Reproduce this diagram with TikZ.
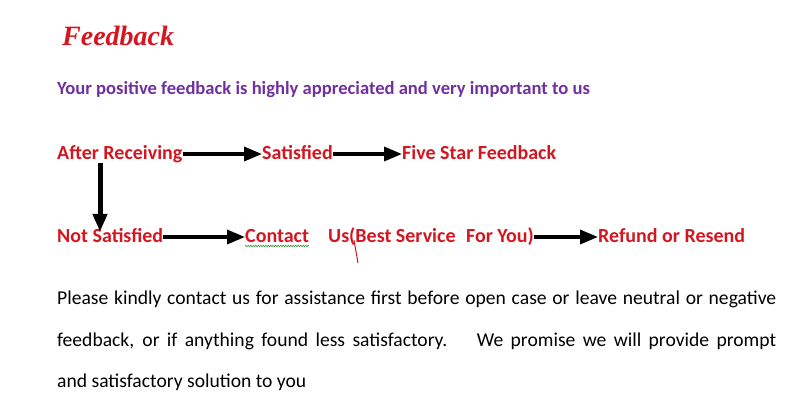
\documentclass[tikz,border=0pt]{standalone}
\usepackage{fontspec}
\setmainfont{Carlito}
\newfontfamily\titlefont{Liberation Serif}
\usetikzlibrary{arrows.meta, positioning, calc, decorations.pathmorphing}
\definecolor{fbred}{RGB}{212,22,32}
\definecolor{fbpurple}{RGB}{112,48,160}
\definecolor{spellgreen}{RGB}{60,150,60}

\begin{document}
\begin{tikzpicture}[x=1pt, y=-1pt,
  stage/.style={anchor=base west, inner sep=0pt, text=fbred,
    font=\fontsize{20}{22}\selectfont\bfseries, text height=10pt, text depth=0pt},
  flow/.style={-{Triangle[length=18pt,width=14pt]}, line width=3.4pt},
  para/.style={anchor=base west, inner sep=0pt, font=\fontsize{19.6}{24}\selectfont}]
  \useasboundingbox (0,0) rectangle (794,402);

  % Heading
  \node[anchor=base west, inner sep=0pt, text=fbred,
    font=\titlefont\fontsize{28}{30}\selectfont\bfseries\itshape] (title) at (62,45) {Feedback};
  \node[anchor=base west, inner sep=0pt, text=fbpurple,
    font=\fontsize{18.6}{20}\selectfont\bfseries] (thanks) at (57,94) {Your positive feedback is highly appreciated and very important to us};

  % Steps
  \node[stage] (after) at (57,159) {After Receiving};
  \node[stage] (sat) at (262,159) {Satisfied};
  \node[stage] (five) at (402,159) {Five Star Feedback};
  \node[stage] (notsat) at (57,242) {Not Satisfied};
  \node[stage] (contact) at (245,242) {Contact};
  \node[stage] (us) at (328,242) {Us(Best Service\hspace{0.3em} For You)};
  \node[stage] (refund) at (598,242) {Refund or Resend};
  \coordinate (turn) at (100,163);

  % Arrows
  \draw[flow] (after.east) -- (sat.west);
  \draw[flow] (sat.east) -- (five.west);
  \draw[flow, line width=5pt] (turn) -- (notsat.north -| turn);
  \draw[flow] (notsat.east) -- (contact.west);
  \draw[flow] (us.east) -- (refund.west);

  % Marks
  \draw[spellgreen, line width=0.6pt, decorate,
    decoration={snake, amplitude=0.8pt, segment length=2.5pt}]
    ($(contact.base west)+(0,4)$) -- ($(contact.base east)+(0,4)$);
  \draw[fbred, line width=1pt] ($(us.base west)+(26,-2)$) -- ($(us.base west)+(30,21)$);

  % Note
  \node[para] (line1) at (57,304) {\makebox[719pt][s]{Please kindly contact us for assistance first before open case or leave neutral or negative}};
  \node[para] (line2) at (57,346) {\makebox[719pt][s]{feedback, or if anything found less satisfactory. \ \ We promise we will provide prompt}};
  \node[para] (line3) at (57,387) {and satisfactory solution to you};
\end{tikzpicture}
\end{document}
